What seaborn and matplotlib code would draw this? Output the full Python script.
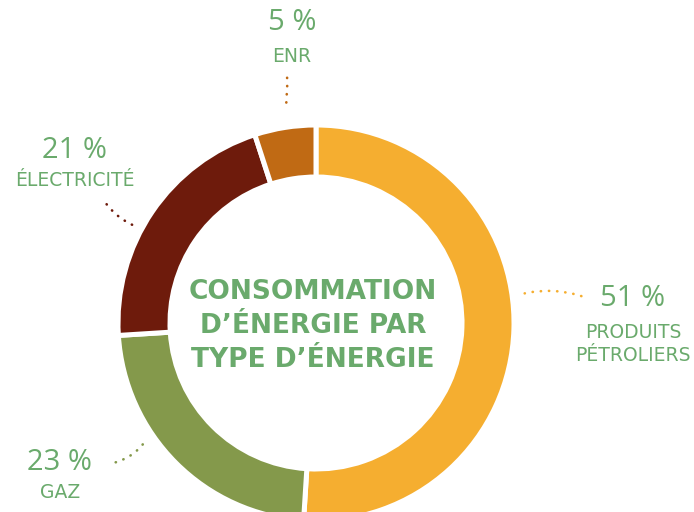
import seaborn as sns
from matplotlib import pyplot as plt
from matplotlib.patches import FancyArrowPatch

# data
categories = ["PRODUITS\nPÉTROLIERS", "GAZ", "ÉLECTRICITÉ", "ENR"]
shares = [51, 23, 21, 5]
colors = ["#f5ae30", "#84994b", "#6e1b0c", "#c06a14"]
title = "CONSOMMATION\nD’ÉNERGIE PAR\nTYPE D’ÉNERGIE"

GREEN = "#6aaa6c"
W, H = 694, 512

sns.set_style("white")
plt.rcParams['font.family'] = ['Open Sans', 'DejaVu Sans']


def px(x, y):
    # image pixel coords (y down) -> data coords (y up)
    return x, H - y


fig = plt.figure(figsize=(W / 100, H / 100), dpi=100)
ax = fig.add_axes([0, 0, 1, 1])

cx, cy = px(316, 323)
ax.pie(shares, colors=colors, radius=198, center=(cx, cy), startangle=90,
       counterclock=False,
       wedgeprops=dict(width=52, edgecolor='white', linewidth=3.6))

ax.set_xlim(0, W)
ax.set_ylim(0, H)
ax.set_aspect('equal')
ax.axis('off')

ax.text(cx - 3, cy - 3, title, ha='center', va='center', color=GREEN,
        fontsize=19, fontweight='bold', linespacing=1.4,
        family=['DejaVu Sans'])

# label layout: (pct x, pct y, name y, leader start, leader end, rad)
layout = [
    (633, 299, 344, (584, 297), (522, 294), 0.15),
    (60, 462, 493, (113, 463), (146, 440), 0.2),
    (75, 150, 181, (105, 202), (135, 226), 0.15),
    (292, 23, 57, (287, 75), (285, 113), -0.05),
]

for (name, val, col, (lx, ly, ny, a, b, rad)) in zip(categories, shares, colors, layout):
    ax.text(*px(lx, ly), f"{val} %", ha='center', va='center', color=GREEN,
            fontsize=21, fontweight='normal')
    ax.text(*px(lx, ny), name, ha='center', va='center', color=GREEN,
            fontsize=13.5, linespacing=1.25, family=['DejaVu Sans'])
    ax.add_patch(FancyArrowPatch(px(*a), px(*b), arrowstyle='-',
                                 connectionstyle=f'arc3,rad={rad}',
                                 linestyle=(0, (0.1, 3.0)), linewidth=1.9,
                                 color=col, capstyle='round'))

fig.savefig('out.png', dpi=100)
